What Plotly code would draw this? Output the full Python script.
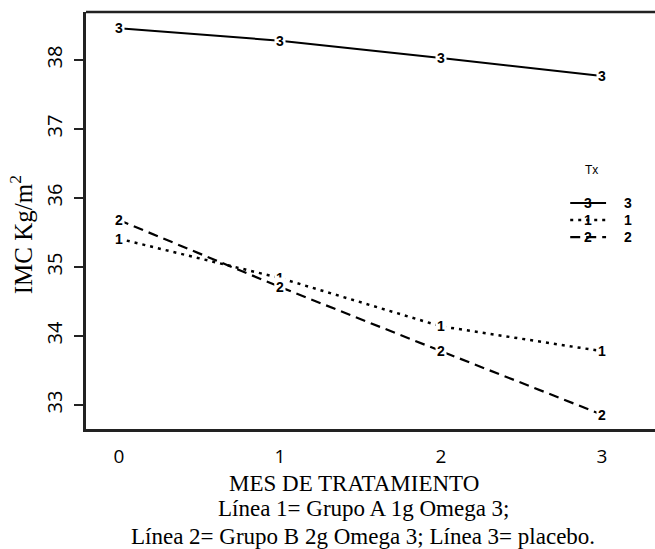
import plotly.graph_objects as go

months = [0, 1, 2, 3]
series_order = ["3", "1", "2"]
imc_3 = [38.46, 38.28, 38.03, 37.77]
imc_1 = [35.41, 34.84, 34.14, 33.78]
imc_2 = [35.68, 34.71, 33.78, 32.86]
y_ticks = [33, 34, 35, 36, 37, 38]
x_ticks = [0, 1, 2, 3]

data = {"3": imc_3, "1": imc_1, "2": imc_2}
dashes = {"3": "solid", "1": "3px,5px", "2": "10px,6px"}
widths = {"3": 2, "1": 2.5, "2": 2.2}

fig = go.Figure()
for s in series_order:
    fig.add_trace(go.Scatter(x=months, y=data[s], mode="lines",
                             line=dict(color="black", width=widths[s], dash=dashes[s]),
                             showlegend=False, hoverinfo="skip"))

lab_font = dict(family="Liberation Sans", size=14, color="black", weight="bold")
annotations = []
for s in series_order:
    for xv, yv in zip(months, data[s]):
        annotations.append(dict(x=xv, y=yv, xref="x", yref="y", text=s, showarrow=False,
                                font=lab_font, bgcolor="white", borderpad=1))

# Legend (custom)
annotations.append(dict(x=0.889, y=0.621, xref="paper", yref="paper", text="Tx", showarrow=False,
                        xanchor="center", yanchor="middle",
                        font=dict(family="Liberation Sans", size=12, color="black")))
shapes = []
leg_y = [0.542, 0.501, 0.460]
for s, ly in zip(series_order, leg_y):
    shapes.append(dict(type="line", xref="paper", yref="paper", x0=0.851, x1=0.914, y0=ly, y1=ly,
                       line=dict(color="black", width=widths[s], dash=dashes[s])))
    annotations.append(dict(x=0.882, y=ly, xref="paper", yref="paper", text=s, showarrow=False,
                            xanchor="center", yanchor="middle", font=lab_font))
    annotations.append(dict(x=0.953, y=ly, xref="paper", yref="paper", text=s, showarrow=False,
                            xanchor="center", yanchor="middle", font=lab_font))

# top frame line
shapes.append(dict(type="line", xref="paper", yref="paper", x0=0, x1=1.02, y0=1, y1=1,
                   line=dict(color="#222", width=2.5)))

serif = "Liberation Serif"
annotations.append(dict(x=-0.114, y=0.465, xref="paper", yref="paper", text="IMC Kg/m<sup>2</sup>",
                        textangle=-90, showarrow=False, xanchor="center", yanchor="middle",
                        font=dict(family=serif, size=25, color="black")))
annotations.append(dict(x=0.471, y=-0.1295, xref="paper", yref="paper", text="MES DE TRATAMIENTO",
                        showarrow=False, xanchor="center", yanchor="middle",
                        font=dict(family=serif, size=23, color="black")))
annotations.append(dict(x=0.487, y=-0.19, xref="paper", yref="paper", text="Línea 1= Grupo A 1g Omega 3;",
                        showarrow=False, xanchor="center", yanchor="middle",
                        font=dict(family=serif, size=23, color="black")))
annotations.append(dict(x=0.487, y=-0.257, xref="paper", yref="paper",
                        text="Línea 2= Grupo B 2g Omega 3; Línea 3= placebo.",
                        showarrow=False, xanchor="center", yanchor="middle",
                        font=dict(family=serif, size=23, color="black")))

fig.update_layout(
    width=655, height=549,
    margin=dict(l=86, r=0, t=12, b=120),
    paper_bgcolor="white", plot_bgcolor="white",
    xaxis=dict(range=[-0.205, 3.329], tickvals=x_ticks, ticktext=[str(v) for v in x_ticks],
               showgrid=False, zeroline=False, showline=True, linecolor="#222", linewidth=2.5,
               ticks="", ticklabelstandoff=8,
               tickfont=dict(family="Open Sans", size=19, color="black")),
    yaxis=dict(range=[32.652, 38.696], tickvals=y_ticks, ticktext=[str(v) for v in y_ticks],
               showgrid=False, zeroline=False, showline=True, linecolor="#222", linewidth=2.5,
               ticks="outside", ticklen=9, tickwidth=2, tickcolor="#222", tickangle=-90,
               ticklabelstandoff=4,
               tickfont=dict(family="Open Sans", size=20, color="black")),
    annotations=annotations, shapes=shapes,
)

fig.write_html("out.html")
